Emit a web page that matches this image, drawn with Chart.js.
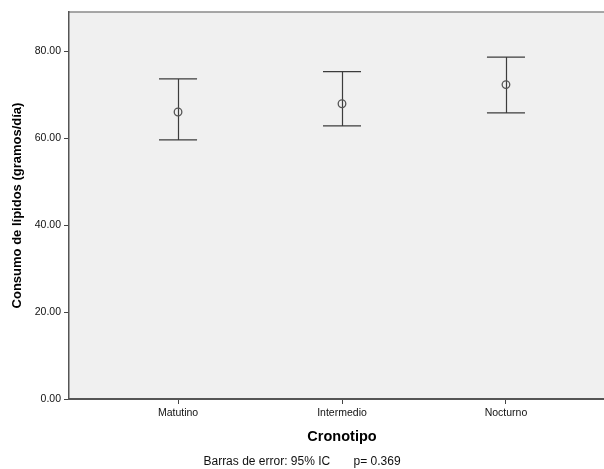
<!DOCTYPE html>
<html>
<head>
<meta charset="utf-8">
<script src="https://cdn.jsdelivr.net/npm/chart.js@4.4.1/dist/chart.umd.min.js"></script>
<style>
  html, body { margin: 0; padding: 0; background: #ffffff; overflow: hidden; }
  #wrap { width: 604px; height: 469px; overflow: hidden; position: relative; }
  canvas { position: absolute; left: 0; top: 0; }
</style>
</head>
<body>
<div id="wrap"><canvas id="chart" width="630" height="469"></canvas></div>
<script>
// Lipid intake by chronotype: group means with 95% confidence intervals
const categories = ['Matutino', 'Intermedio', 'Nocturno'];
const means      = [66.0, 67.9, 72.3];
const ciLower    = [59.6, 62.8, 65.8];
const ciUpper    = [73.6, 75.3, 78.6];
const yTickValues = [0, 20, 40, 60, 80];
const footerText = 'Barras de error: 95% IC       p= 0.369';

const FONT = "'Liberation Sans', Arial, Helvetica, sans-serif";

// Plot background and frame
const framePlugin = {
  id: 'frame',
  beforeDraw(chart) {
    const { ctx, chartArea: a } = chart;
    ctx.save();
    ctx.fillStyle = '#f0f0f0';
    ctx.fillRect(a.left, a.top, a.right - a.left, a.bottom - a.top);
    ctx.strokeStyle = '#8a8a8a';
    ctx.lineWidth = 1.5;
    ctx.beginPath();
    ctx.moveTo(a.left, a.top);
    ctx.lineTo(a.right, a.top);
    ctx.lineTo(a.right, a.bottom);
    ctx.stroke();
    ctx.restore();
  }
};

// Vertical confidence-interval whiskers with caps
const errorBarPlugin = {
  id: 'errorBars',
  beforeDatasetsDraw(chart) {
    const { ctx, scales: { x, y } } = chart;
    const capHalf = 0.116;
    ctx.save();
    ctx.strokeStyle = '#3c3c3c';
    ctx.lineWidth = 1.2;
    categories.forEach((c, i) => {
      const xv = i + 1;
      const px = Math.round(x.getPixelForValue(xv)) + 0.5;
      const yLo = y.getPixelForValue(ciLower[i]);
      const yHi = y.getPixelForValue(ciUpper[i]);
      const xl = x.getPixelForValue(xv - capHalf);
      const xr = x.getPixelForValue(xv + capHalf);
      ctx.beginPath();
      ctx.moveTo(px, yHi);
      ctx.lineTo(px, yLo);
      ctx.moveTo(xl, yHi);
      ctx.lineTo(xr, yHi);
      ctx.moveTo(xl, yLo);
      ctx.lineTo(xr, yLo);
      ctx.stroke();
    });
    ctx.restore();
  }
};

new Chart(document.getElementById('chart'), {
  type: 'scatter',
  data: {
    datasets: [{
      data: means.map((m, i) => ({ x: i + 1, y: m })),
      pointStyle: 'circle',
      pointRadius: 3.8,
      pointHoverRadius: 3.8,
      pointBorderWidth: 1.3,
      pointBorderColor: '#555555',
      pointBackgroundColor: 'rgba(240,240,240,0)',
      showLine: false
    }]
  },
  options: {
    responsive: false,
    animation: false,
    devicePixelRatio: 1,
    events: [],
    layout: { padding: { top: 12, right: 15, left: -11, bottom: 0 } },
    plugins: {
      legend: { display: false },
      tooltip: { enabled: false },
      title: {
        display: true,
        position: 'bottom',
        text: footerText,
        color: '#111111',
        font: { family: FONT, size: 12, weight: 'normal', lineHeight: 1.2 },
        padding: { top: 5, bottom: 0 }
      }
    },
    scales: {
      x: {
        type: 'linear',
        min: 0.335,
        max: 3.665,
        afterBuildTicks(scale) {
          scale.ticks = categories.map((c, i) => ({ value: i + 1 }));
        },
        afterFit(scale) { scale.height = 50.6; },
        ticks: {
          autoSkip: false,
          maxRotation: 0,
          padding: 3,
          color: '#111111',
          font: { family: FONT, size: 10.5 },
          callback: (v) => categories[Math.round(v) - 1]
        },
        grid: {
          drawOnChartArea: false,
          drawTicks: true,
          tickLength: 5,
          tickColor: '#444444',
          tickWidth: 1
        },
        border: { display: true, color: '#555555', width: 2 },
        title: {
          display: true,
          text: 'Cronotipo',
          color: '#000000',
          font: { family: FONT, size: 14.5, weight: 'bold', lineHeight: 1.2 },
          padding: { top: 0, bottom: 4 }
        }
      },
      y: {
        type: 'linear',
        min: 0,
        max: 89,
        afterBuildTicks(scale) {
          scale.ticks = yTickValues.map(v => ({ value: v }));
        },
        afterFit(scale) { scale.width = 80; },
        ticks: {
          padding: 3,
          color: '#111111',
          font: { family: FONT, size: 10.5 },
          callback: (v) => Number(v).toFixed(2)
        },
        grid: {
          drawOnChartArea: false,
          drawTicks: true,
          tickLength: 5,
          tickColor: '#444444',
          tickWidth: 1
        },
        border: { display: true, color: '#555555', width: 1.5 },
        title: {
          display: true,
          text: 'Consumo de lípidos (gramos/día)',
          color: '#000000',
          font: { family: FONT, size: 13, weight: 'bold', lineHeight: 1.2 },
          padding: { top: 21, bottom: 0 }
        }
      }
    }
  },
  plugins: [framePlugin, errorBarPlugin]
});
</script>
</body>
</html>
